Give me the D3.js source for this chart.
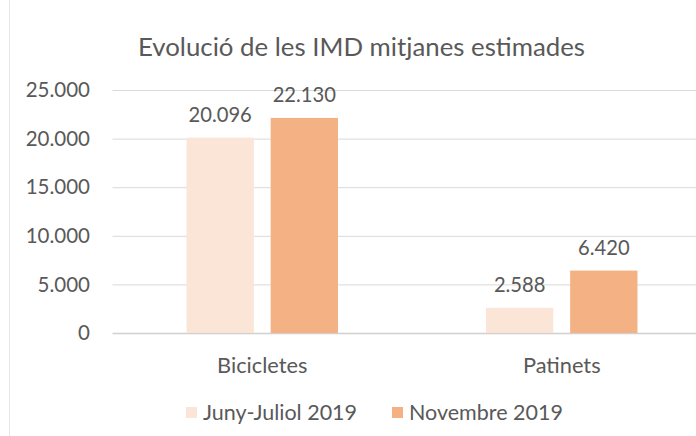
<!DOCTYPE html>
<html>
<head>
<meta charset="utf-8">
<script src="https://cdn.jsdelivr.net/npm/d3@7"></script>
<style>
  body { margin: 0; background: #fff; }
  text { font-family: Lato, "Open Sans", sans-serif; fill: #595959; }
</style>
</head>
<body>
<div id="chart"></div>
<script>
const categories = ['Bicicletes', 'Patinets'];
const seriesNames = ['Juny-Juliol 2019', 'Novembre 2019'];
const juny = [20096, 2588];
const novembre = [22130, 6420];
const yTicks = [0, 5000, 10000, 15000, 20000, 25000];
const colors = ['#FBE5D6', '#F4B183'];

const width = 696, height = 436;
const margin = {top: 90, right: -15.5, bottom: 103, left: 112.5};

const fmt = d => d === 0 ? '0' : d3.format(',')(d).replace(/,/g, '.');

const svg = d3.select('#chart').append('svg')
  .attr('width', width).attr('height', height);

// faint chart frame on the left
svg.append('line')
  .attr('x1', 9.5).attr('x2', 9.5).attr('y1', 0).attr('y2', height)
  .attr('stroke', '#e6e6e6');

svg.append('text')
  .attr('x', 361.5).attr('y', 47)
  .attr('dy', '0.35em')
  .attr('text-anchor', 'middle')
  .style('font-size', '25.8px')
  .text('Evolució de les IMD mitjanes estimades');

const x0 = d3.scaleBand()
  .domain(categories)
  .range([margin.left, width - margin.right]);

const x1 = d3.scaleBand()
  .domain([0, 1])
  .range([0, x0.bandwidth()])
  .paddingInner(0.2)
  .paddingOuter(0.88);

const y = d3.scaleLinear()
  .domain([0, 25000])
  .range([height - margin.bottom, margin.top]);

const g = svg.append('g');

// gridlines
g.append('g')
  .selectAll('line')
  .data(yTicks)
  .enter().append('line')
  .attr('x1', margin.left).attr('x2', width - margin.right)
  .attr('y1', d => y(d) + 0.5).attr('y2', d => y(d) + 0.5)
  .attr('stroke', d => d === 0 ? '#d0d0d0' : '#d9d9d9')
  .attr('stroke-width', d => d === 0 ? 1.5 : 1);

// y tick labels
g.append('g')
  .selectAll('text')
  .data(yTicks)
  .enter().append('text')
  .attr('x', 90).attr('y', d => y(d))
  .attr('dy', '0.35em')
  .attr('text-anchor', 'end')
  .style('font-size', '20.5px')
  .text(fmt);

const rows = [];
categories.forEach((c, i) => {
  rows.push({cat: c, s: 0, v: juny[i]});
  rows.push({cat: c, s: 1, v: novembre[i]});
});

g.append('g')
  .selectAll('rect')
  .data(rows)
  .enter().append('rect')
  .attr('x', d => x0(d.cat) + x1(d.s))
  .attr('y', d => y(d.v))
  .attr('width', x1.bandwidth())
  .attr('height', d => y(0) - y(d.v))
  .attr('fill', d => colors[d.s]);

g.append('g')
  .selectAll('text')
  .data(rows)
  .enter().append('text')
  .attr('x', d => x0(d.cat) + x1(d.s) + x1.bandwidth() / 2)
  .attr('y', d => y(d.v) - 23)
  .attr('dy', '0.35em')
  .attr('text-anchor', 'middle')
  .style('font-size', '20.2px')
  .text(d => fmt(d.v));

// category labels
g.append('g')
  .selectAll('text')
  .data(categories)
  .enter().append('text')
  .attr('x', d => x0(d) + x0.bandwidth() / 2)
  .attr('y', 365)
  .attr('dy', '0.35em')
  .attr('text-anchor', 'middle')
  .style('font-size', '21.8px')
  .text(d => d);

// legend
const legendX = [186, 392];
const legend = svg.append('g')
  .selectAll('g')
  .data(seriesNames)
  .enter().append('g')
  .attr('transform', (d, i) => 'translate(' + legendX[i] + ',407)');
legend.append('rect')
  .attr('width', 11).attr('height', 11)
  .attr('fill', (d, i) => colors[i]);
legend.append('text')
  .attr('x', 17).attr('y', 5.5)
  .attr('dy', '0.35em')
  .style('font-size', '21.5px')
  .text(d => d);
</script>
</body>
</html>
